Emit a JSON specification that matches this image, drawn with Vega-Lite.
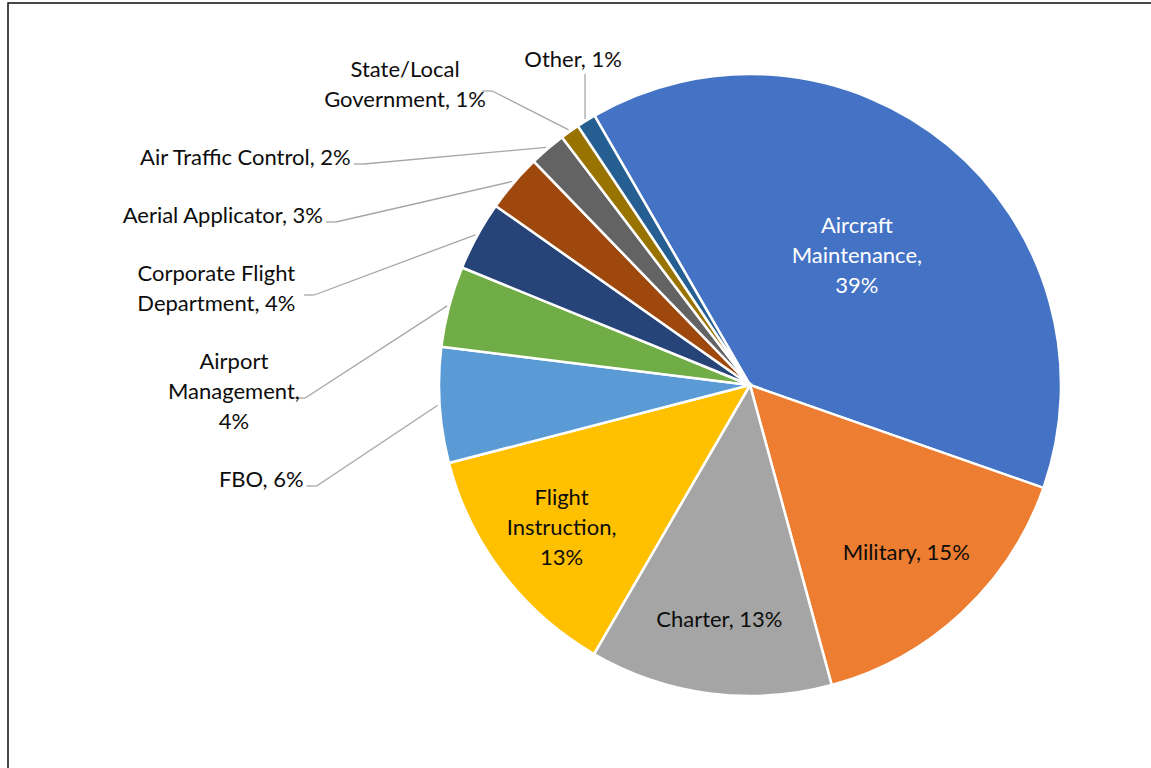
{
  "$schema": "https://vega.github.io/schema/vega-lite/v6.json",
  "width": 1143,
  "height": 765,
  "autosize": {"type": "none"},
  "padding": {"left": 8, "top": 3, "right": 0, "bottom": 0},
  "background": "#ffffff",
  "config": {
    "view": {"stroke": "#0d0d0d", "strokeWidth": 1.5, "strokeDash": [1143, 1908, 766, 1]},
    "text": {"font": "Lato", "fontSize": 22, "lineBreak": "\n", "lineHeight": 30, "color": "#0d0d0d"}
  },
  "params": [
    {"name": "cx", "value": 742},
    {"name": "cy", "value": 382},
    {"name": "R", "value": 311}
  ],
  "data": {
    "values": [
      {"category": "Aircraft Maintenance", "share": 38.7, "label": "Aircraft\nMaintenance,\n39%"},
      {"category": "Military", "share": 15.4, "label": "Military, 15%"},
      {"category": "Charter", "share": 12.6, "label": "Charter, 13%"},
      {"category": "Flight Instruction", "share": 12.6, "label": "Flight\nInstruction,\n13%"},
      {"category": "FBO", "share": 6.0, "label": "FBO, 6%"},
      {"category": "Airport Management", "share": 4.2, "label": "Airport\nManagement,\n4%"},
      {"category": "Corporate Flight Department", "share": 3.6, "label": "Corporate Flight\nDepartment, 4%"},
      {"category": "Aerial Applicator", "share": 3.0, "label": "Aerial Applicator, 3%"},
      {"category": "Air Traffic Control", "share": 1.9, "label": "Air Traffic Control, 2%"},
      {"category": "State/Local Government", "share": 1.0, "label": "State/Local\nGovernment, 1%"},
      {"category": "Other", "share": 1.0, "label": "Other, 1%"}
    ]
  },
  "transform": [
    {"window": [{"op": "row_number", "as": "idx"}]},
    {"window": [{"op": "sum", "field": "share", "as": "cum"}], "sort": [{"field": "idx", "order": "ascending"}], "frame": [null, 0]},
    {"calculate": "(datum.cum - datum.share / 2) / 100 * 2 * PI - PI / 6", "as": "ang"},
    {"calculate": "length(split(datum.label, '\\n'))", "as": "nl"}
  ],
  "layer": [
    {
      "mark": {"type": "arc", "x": {"expr": "cx"}, "y": {"expr": "cy"}, "outerRadius": {"expr": "R"}, "stroke": "#ffffff", "strokeWidth": 2.5},
      "encoding": {
        "theta": {"field": "share", "type": "quantitative", "stack": true, "scale": {"domain": [0, 100], "range": [-0.5235988, 5.7595865]}},
        "color": {
          "field": "category", "type": "nominal", "sort": null, "legend": null,
          "scale": {
            "domain": ["Aircraft Maintenance", "Military", "Charter", "Flight Instruction", "FBO", "Airport Management", "Corporate Flight Department", "Aerial Applicator", "Air Traffic Control", "State/Local Government", "Other"],
            "range": ["#4472C4", "#ED7D31", "#A5A5A5", "#FFC000", "#5B9BD5", "#70AD47", "#264478", "#9E480E", "#636363", "#997300", "#255E91"]
          }
        },
        "order": {"field": "idx", "type": "quantitative", "sort": "ascending"}
      }
    },
    {
      "transform": [
        {"filter": "datum.share >= 10"},
        {"calculate": "270 - 2.65 * datum.share", "as": "rin"},
        {"calculate": "cx + datum.rin * sin(datum.ang)", "as": "lx"},
        {"calculate": "cy - datum.rin * cos(datum.ang) - (datum.nl - 1) * 15", "as": "ly"}
      ],
      "mark": {"type": "text", "align": "center", "baseline": "middle"},
      "encoding": {
        "x": {"field": "lx", "type": "quantitative", "scale": null},
        "y": {"field": "ly", "type": "quantitative", "scale": null},
        "text": {"field": "label", "type": "nominal"},
        "color": {"condition": {"test": "luminance(scale('color', datum.category)) < 0.25", "value": "#ffffff"}, "value": "#0d0d0d"}
      }
    },
    {
      "transform": [
        {"filter": "datum.share < 10"},
        {"calculate": "cx + (R + 2) * sin(datum.ang)", "as": "sx"},
        {"calculate": "cy - (R + 2) * cos(datum.ang)", "as": "sy"}
      ],
      "layer": [
        {
          "transform": [
            {"filter": "datum.ang < 5.7"},
            {"calculate": "datum.nl * 30 + 28", "as": "h"},
            {"window": [{"op": "sum", "field": "h", "as": "cinc"}], "sort": [{"field": "idx", "order": "descending"}], "frame": [null, 0]},
            {"calculate": "datum.cinc - datum.h", "as": "c0"},
            {"calculate": "cy - 420 * cos(datum.ang)", "as": "ry"},
            {"calculate": "datum.ry - datum.nl * 15 - datum.c0", "as": "d"},
            {"window": [{"op": "max", "field": "d", "as": "maxd"}], "sort": [{"field": "idx", "order": "descending"}], "frame": [null, 0]},
            {"calculate": "datum.c0 + max(52, datum.maxd) + datum.nl * 15", "as": "yc"},
            {"calculate": "datum.yc - (datum.nl - 1) * 15", "as": "ytext"},
            {"calculate": "datum.yc + 6", "as": "yt"},
            {"calculate": "datum.yc - datum.ry < 50 ? cx + 445 * sin(datum.ang) : cx - sqrt(445 * 445 - (datum.yt - cy) * (datum.yt - cy))", "as": "xt"},
            {"calculate": "datum.xt - 10", "as": "xe"},
            {"calculate": "datum.xe - 3", "as": "xl"},
            {"calculate": "split(datum.label, '\\n')", "as": "lines"},
            {"calculate": "max(length(datum.lines[0]), length(datum.lines[1] || ''), length(datum.lines[2] || ''))", "as": "mw"},
            {"calculate": "datum.xl - datum.mw * 5.3", "as": "xc"}
          ],
          "layer": [
            {
              "mark": {"type": "rule", "color": "#a6a6a6", "strokeWidth": 1.3},
              "encoding": {
                "x": {"field": "sx", "type": "quantitative", "scale": null},
                "y": {"field": "sy", "type": "quantitative", "scale": null},
                "x2": {"field": "xt"},
                "y2": {"field": "yt"}
              }
            },
            {
              "mark": {"type": "rule", "color": "#a6a6a6", "strokeWidth": 1.3},
              "encoding": {
                "x": {"field": "xt", "type": "quantitative", "scale": null},
                "y": {"field": "yt", "type": "quantitative", "scale": null},
                "x2": {"field": "xe"},
                "y2": {"field": "yt"}
              }
            },
            {
              "transform": [{"filter": "datum.nl == 1"}],
              "mark": {"type": "text", "align": "right", "baseline": "middle"},
              "encoding": {
                "x": {"field": "xl", "type": "quantitative", "scale": null},
                "y": {"field": "ytext", "type": "quantitative", "scale": null},
                "text": {"field": "label", "type": "nominal"}
              }
            },
            {
              "transform": [{"filter": "datum.nl > 1"}],
              "mark": {"type": "text", "align": "center", "baseline": "middle"},
              "encoding": {
                "x": {"field": "xc", "type": "quantitative", "scale": null},
                "y": {"field": "ytext", "type": "quantitative", "scale": null},
                "text": {"field": "label", "type": "nominal"}
              }
            }
          ]
        },
        {
          "transform": [
            {"filter": "datum.ang >= 5.7"},
            {"calculate": "datum.sy - 45", "as": "ye"},
            {"calculate": "datum.ye - 14", "as": "yl"},
            {"calculate": "datum.sx - 12", "as": "xlab"}
          ],
          "layer": [
            {
              "mark": {"type": "rule", "color": "#a6a6a6", "strokeWidth": 1.3},
              "encoding": {
                "x": {"field": "sx", "type": "quantitative", "scale": null},
                "y": {"field": "sy", "type": "quantitative", "scale": null},
                "y2": {"field": "ye"}
              }
            },
            {
              "mark": {"type": "text", "align": "center", "baseline": "middle"},
              "encoding": {
                "x": {"field": "xlab", "type": "quantitative", "scale": null},
                "y": {"field": "yl", "type": "quantitative", "scale": null},
                "text": {"field": "label", "type": "nominal"}
              }
            }
          ]
        }
      ]
    }
  ]
}
